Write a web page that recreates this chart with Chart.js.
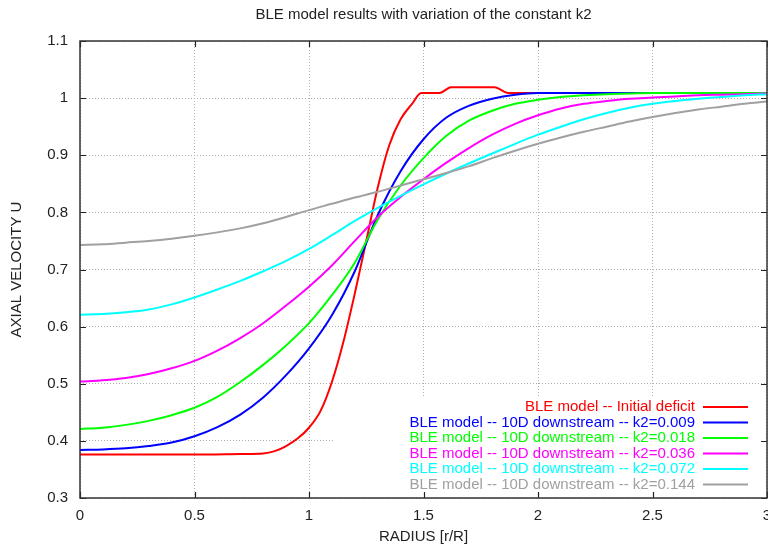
<!DOCTYPE html>
<html>
<head>
    <meta charset="utf-8">
    <title>BLE model results</title>
    <script src="https://cdn.jsdelivr.net/npm/chart.js"></script>
    <style>
        html, body { margin: 0; padding: 0; background: #fff; }
        #myChart { display: block; }
    </style>
</head>
<body>
<canvas id="myChart" width="768" height="546"></canvas>
<script>
    // radius r/R shared by the 10D downstream curves
    const radius = [0, 0.1, 0.2, 0.3, 0.4, 0.5, 0.6, 0.7, 0.8, 0.9, 1.0,
        1.1, 1.2, 1.3, 1.4, 1.5, 1.6, 1.7, 1.8, 1.9, 2.0,
        2.1, 2.2, 2.3, 2.4, 2.5, 2.6, 2.7, 2.8, 2.9, 3.0];

    const uK009 = [0.384, 0.385, 0.387, 0.391, 0.397, 0.408, 0.424, 0.446, 0.476, 0.515, 0.562,
        0.620, 0.697, 0.795, 0.872, 0.928, 0.966, 0.987, 0.999, 1.006, 1.009,
        1.009, 1.009, 1.009, 1.009, 1.009, 1.009, 1.009, 1.009, 1.009, 1.009];
    const uK018 = [0.421, 0.423, 0.428, 0.435, 0.445, 0.458, 0.477, 0.503, 0.533, 0.567, 0.606,
        0.655, 0.712, 0.787, 0.847, 0.895, 0.934, 0.961, 0.978, 0.990, 0.997,
        1.002, 1.005, 1.007, 1.008, 1.009, 1.009, 1.009, 1.009, 1.009, 1.009];
    const uK036 = [0.504, 0.506, 0.510, 0.517, 0.527, 0.540, 0.558, 0.580, 0.606, 0.637, 0.670,
        0.707, 0.750, 0.792, 0.827, 0.858, 0.887, 0.913, 0.936, 0.955, 0.970,
        0.982, 0.990, 0.995, 0.999, 1.001, 1.003, 1.005, 1.006, 1.007, 1.008];
    const uK072 = [0.621, 0.622, 0.625, 0.630, 0.639, 0.651, 0.665, 0.680, 0.697, 0.715, 0.736,
        0.760, 0.785, 0.808, 0.829, 0.849, 0.868, 0.886, 0.903, 0.920, 0.936,
        0.950, 0.963, 0.974, 0.983, 0.990, 0.995, 0.999, 1.002, 1.005, 1.007];
    const uK144 = [0.743, 0.744, 0.747, 0.750, 0.754, 0.759, 0.765, 0.772, 0.781, 0.792, 0.804,
        0.815, 0.826, 0.836, 0.847, 0.858, 0.869, 0.881, 0.895, 0.908, 0.920,
        0.931, 0.941, 0.950, 0.959, 0.967, 0.974, 0.980, 0.985, 0.990, 0.994];

    // initial deficit has its own (denser) radius points
    const radiusInitial = [0, 0.5, 0.7, 0.8, 0.85, 0.9, 0.95, 1.0, 1.05, 1.1, 1.15, 1.2, 1.25,
        1.3, 1.35, 1.4, 1.45, 1.49, 1.57, 1.62, 1.81, 1.87, 2.5, 3.0];
    const uInitial = [0.376, 0.376, 0.377, 0.378, 0.382, 0.391, 0.404, 0.423, 0.452, 0.503, 0.573, 0.658, 0.750,
        0.843, 0.917, 0.963, 0.990, 1.009, 1.009, 1.019, 1.019, 1.009, 1.009, 1.009];

    const seriesNames = [
        'BLE model -- Initial deficit',
        'BLE model -- 10D downstream -- k2=0.009',
        'BLE model -- 10D downstream -- k2=0.018',
        'BLE model -- 10D downstream -- k2=0.036',
        'BLE model -- 10D downstream -- k2=0.072',
        'BLE model -- 10D downstream -- k2=0.144'
    ];
    const seriesColors = ['#ff0000', '#0000ff', '#00ff00', '#ff00ff', '#00ffff', '#a0a0a0'];

    const xTicks = [0, 0.5, 1, 1.5, 2, 2.5, 3];
    const yTicks = [0.3, 0.4, 0.5, 0.6, 0.7, 0.8, 0.9, 1, 1.1];

    const chartTitle = 'BLE model results with variation of the constant k2';
    const FONT = "'Liberation Sans', Arial, Helvetica, sans-serif";

    function toPoints(xs, ys) {
        return xs.map((x, i) => ({x: x, y: ys[i]}));
    }

    const seriesData = [
        toPoints(radiusInitial, uInitial),
        toPoints(radius, uK009),
        toPoints(radius, uK018),
        toPoints(radius, uK036),
        toPoints(radius, uK072),
        toPoints(radius, uK144)
    ];

    const datasets = seriesData.map((d, i) => ({
        label: seriesNames[i],
        data: d,
        borderColor: seriesColors[i],
        backgroundColor: seriesColors[i],
        borderWidth: 2,
        pointRadius: 0,
        fill: false,
        cubicInterpolationMode: 'monotone',
        order: seriesData.length - 1 - i   // later series drawn on top, like gnuplot
    }));

    // gnuplot-like frame: key box, inward tics, border, title
    const gnuplotFrame = {
        id: 'gnuplotFrame',
        beforeDatasetsDraw(chart) {
            const a = chart.chartArea;
            const ctx = chart.ctx;
            ctx.save();
            ctx.fillStyle = '#ffffff';
            ctx.fillRect(a.right - 432, a.bottom - 100, 432, 100);
            ctx.restore();
        },
        afterDatasetsDraw(chart) {
            const a = chart.chartArea;
            const ctx = chart.ctx;
            const xs = chart.scales.x;
            const ys = chart.scales.y;
            ctx.save();

            // key
            ctx.font = '15px ' + FONT;
            ctx.textAlign = 'right';
            ctx.textBaseline = 'middle';
            seriesNames.forEach((name, i) => {
                const y = a.bottom - 91 + i * 15.5;
                ctx.fillStyle = seriesColors[i];
                ctx.fillText(name, a.right - 72, y);
                ctx.strokeStyle = seriesColors[i];
                ctx.lineWidth = 2;
                ctx.beginPath();
                ctx.moveTo(a.right - 64, y);
                ctx.lineTo(a.right - 19, y);
                ctx.stroke();
            });

            // inward tics on all four sides
            ctx.strokeStyle = '#222';
            ctx.lineWidth = 1.2;
            ctx.beginPath();
            xTicks.forEach(v => {
                const px = Math.round(xs.getPixelForValue(v)) + 0.5;
                ctx.moveTo(px, a.bottom); ctx.lineTo(px, a.bottom - 6);
                ctx.moveTo(px, a.top); ctx.lineTo(px, a.top + 6);
            });
            yTicks.forEach(v => {
                const py = Math.round(ys.getPixelForValue(v)) + 0.5;
                ctx.moveTo(a.left, py); ctx.lineTo(a.left + 6, py);
                ctx.moveTo(a.right, py); ctx.lineTo(a.right - 6, py);
            });
            ctx.stroke();

            // border
            ctx.strokeStyle = '#333';
            ctx.lineWidth = 1.5;
            ctx.strokeRect(a.left, a.top, a.right - a.left, a.bottom - a.top);

            // title
            ctx.fillStyle = '#222';
            ctx.textAlign = 'center';
            ctx.font = '15px ' + FONT;
            ctx.fillText(chartTitle, (a.left + a.right) / 2, 15);
            ctx.restore();
        }
    };

    const fmt = v => String(+Number(v).toFixed(2));

    const chartConfig = {
        type: 'line',
        data: {datasets: datasets},
        options: {
            responsive: false,
            animation: false,
            layout: {padding: {top: 41, right: 1, left: 0, bottom: 0}},
            plugins: {
                legend: {display: false},
                title: {display: false},
                tooltip: {enabled: false}
            },
            scales: {
                x: {
                    type: 'linear',
                    min: 0,
                    max: 3,
                    afterBuildTicks: s => { s.ticks = xTicks.map(v => ({value: v})); },
                    ticks: {
                        padding: 9,
                        color: '#222',
                        font: {family: FONT, size: 15},
                        maxRotation: 0,
                        autoSkip: false,
                        callback: fmt
                    },
                    grid: {color: '#b0b0b0', lineWidth: 1, drawTicks: false},
                    border: {display: false, dash: [1, 2]},
                    title: {
                        display: true,
                        text: 'RADIUS [r/R]',
                        color: '#222',
                        font: {family: FONT, size: 15},
                        padding: {top: 0, bottom: 0}
                    },
                    afterFit: s => { s.height = 48; s.paddingLeft = 0; s.paddingRight = 0; }
                },
                y: {
                    type: 'linear',
                    min: 0.3,
                    max: 1.1,
                    afterBuildTicks: s => { s.ticks = yTicks.map(v => ({value: v})); },
                    ticks: {
                        padding: 12,
                        color: '#222',
                        font: {family: FONT, size: 15},
                        autoSkip: false,
                        callback: fmt
                    },
                    grid: {color: '#b0b0b0', lineWidth: 1, drawTicks: false},
                    border: {display: false, dash: [1, 2]},
                    title: {
                        display: true,
                        text: 'AXIAL VELOCITY U',
                        color: '#222',
                        font: {family: FONT, size: 15},
                        padding: {top: 8, bottom: 0}
                    },
                    afterFit: s => { s.width = 80; s.paddingTop = 0; s.paddingBottom = 0; }
                }
            }
        },
        plugins: [gnuplotFrame]
    };

    const canvas = document.getElementById('myChart');
    const chart = new Chart(canvas, chartConfig);
</script>
</body>
</html>
